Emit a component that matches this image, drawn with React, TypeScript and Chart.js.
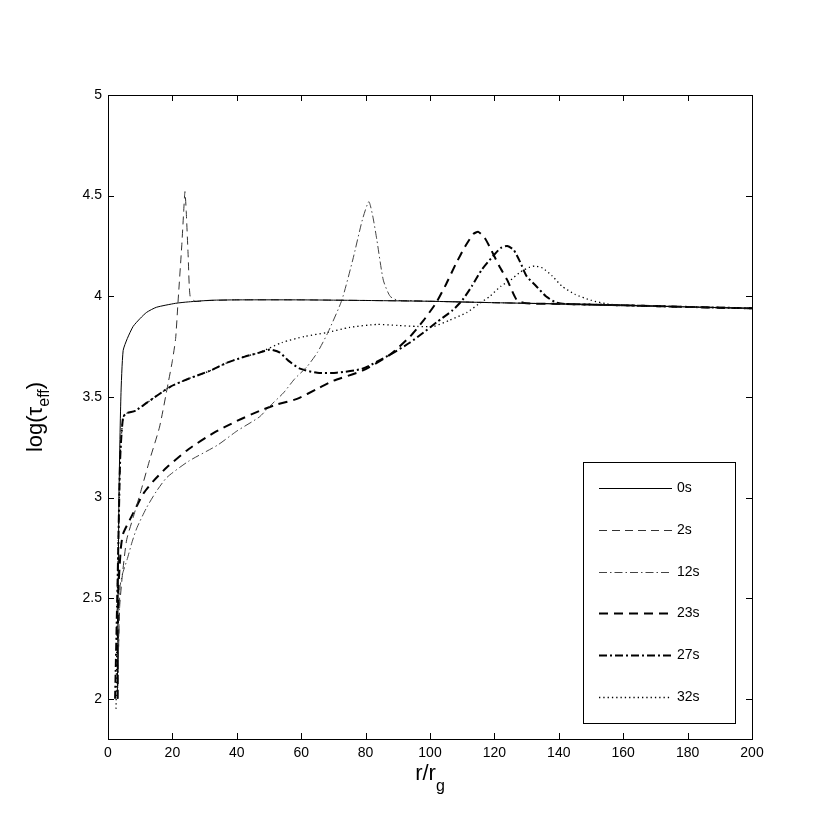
import React, { useEffect, useRef } from "react";
import { Chart, registerables } from "chart.js";

Chart.register(...registerables);

// ---- data ----
const seriesLabels = ["0s", "2s", "12s", "23s", "27s", "32s"];

const x0s = [2.9, 3.4, 4.0, 4.7, 6, 7.8, 10, 12, 15, 21, 25, 32, 40, 60, 80, 100, 120, 140, 160, 180, 200];
const y0s = [2.0, 3.0, 3.5, 3.73, 3.79, 3.85, 3.89, 3.92, 3.945, 3.965, 3.972, 3.98, 3.982, 3.982, 3.979, 3.975, 3.968, 3.962, 3.955, 3.947, 3.94];

const x2s = [3, 3.6, 4.5, 5.8, 7.8, 10, 13, 16, 18.7, 20, 21, 21.7, 22.9, 23.5, 23.9, 24.3, 24.9, 25.5, 27, 30, 40, 60, 80, 100, 120, 140, 160, 180, 200];
const y2s = [2.0, 2.45, 2.62, 2.79, 2.9, 3.02, 3.19, 3.35, 3.57, 3.68, 3.79, 3.96, 4.25, 4.42, 4.52, 4.42, 4.2, 4.0, 3.975, 3.978, 3.982, 3.982, 3.979, 3.975, 3.968, 3.962, 3.955, 3.947, 3.94];

const x12s = [3, 3.7, 4.5, 5.9, 7.5, 9, 12, 15, 18.3, 25, 34, 40, 47, 50, 54.5, 58, 61.8, 65, 68.3, 72.6, 76, 79, 81, 82.2, 83.5, 85.5, 87.6, 90, 95, 100, 120, 140, 160, 180, 200];
const y12s = [2.0, 2.55, 2.62, 2.69, 2.78, 2.85, 2.95, 3.03, 3.1, 3.18, 3.26, 3.33, 3.4, 3.45, 3.52, 3.59, 3.65, 3.72, 3.82, 3.98, 4.18, 4.38, 4.47, 4.4, 4.28, 4.08, 4.0, 3.98, 3.978, 3.975, 3.968, 3.962, 3.955, 3.947, 3.94];

const x23s = [3, 3.2, 4, 4.7, 6.8, 9, 11, 14, 18.3, 25, 32.7, 40, 47, 52, 58.7, 65, 70, 79, 87.6, 93.8, 98, 102, 105, 108, 111, 113.5, 115, 117, 119, 121.5, 124, 127, 130, 140, 160, 180, 200];
const y23s = [2.0, 2.53, 2.75, 2.82, 2.89, 2.96, 3.02, 3.08, 3.15, 3.24, 3.32, 3.38, 3.43, 3.46, 3.49, 3.54, 3.58, 3.63, 3.71, 3.8, 3.88, 3.97, 4.06, 4.16, 4.25, 4.31, 4.32, 4.29, 4.23, 4.15, 4.08, 3.98, 3.965, 3.962, 3.955, 3.947, 3.94];

const x27s = [2.2, 3, 3.8, 4.7, 6, 8.4, 12, 19.3, 25, 31.7, 37, 42.5, 47, 50.3, 53.4, 56, 59.6, 65, 71, 79, 87.6, 93.8, 98, 102, 107, 110, 113, 116, 119.6, 122, 124, 126, 128, 130, 133, 136, 139, 142, 160, 180, 200];
const y27s = [2.0, 2.6, 3.2, 3.4, 3.42, 3.43, 3.47, 3.55, 3.59, 3.63, 3.67, 3.7, 3.72, 3.735, 3.72, 3.68, 3.64, 3.62, 3.62, 3.64, 3.71, 3.77, 3.82, 3.87, 3.93, 3.98, 4.05, 4.13, 4.2, 4.24, 4.25, 4.23, 4.17, 4.1, 4.05, 4.0, 3.97, 3.962, 3.955, 3.947, 3.94];

const x32s = [2.5, 3, 3.8, 4.7, 6, 8.4, 12, 19.3, 25, 31.7, 37, 42.5, 47, 54, 61, 68, 75, 83.5, 90, 96, 101, 106, 111.5, 115, 118.6, 122, 125, 128, 131, 132.5, 135, 138, 141, 145, 150, 155, 160, 180, 200];
const y32s = [1.95, 2.6, 3.2, 3.4, 3.42, 3.43, 3.47, 3.55, 3.59, 3.63, 3.67, 3.7, 3.72, 3.77, 3.8, 3.82, 3.845, 3.86, 3.855, 3.85, 3.85, 3.88, 3.92, 3.96, 4.0, 4.05, 4.08, 4.12, 4.145, 4.15, 4.14, 4.1, 4.05, 4.01, 3.98, 3.962, 3.955, 3.947, 3.94];

const xTicks = [0, 20, 40, 60, 80, 100, 120, 140, 160, 180, 200];
const yTicks = [2, 2.5, 3, 3.5, 4, 4.5, 5];

const FONT = "'Liberation Sans', Arial, Helvetica, sans-serif";

const zip = (xs: number[], ys: number[]) => xs.map((x, i) => ({ x, y: ys[i] }));

const styles = [
  { color: "#000", width: 1, dash: [] as number[] },
  { color: "#333", width: 1, dash: [8, 5] },
  { color: "#444", width: 1, dash: [8, 3, 1.5, 3] },
  { color: "#000", width: 2, dash: [9, 6] },
  { color: "#000", width: 2, dash: [8, 3, 2, 3] },
  { color: "#000", width: 1.3, dash: [1.3, 3] },
];

const frame = {
  id: "frame",
  afterDatasetsDraw(chart: any) {
    const { ctx, chartArea: a, scales } = chart;
    const xs = scales.x;
    const ys = scales.y;
    ctx.save();
    ctx.strokeStyle = "#000";
    ctx.lineWidth = 1;
    ctx.setLineDash([]);
    ctx.strokeRect(a.left + 0.5, a.top + 0.5, a.right - a.left, a.bottom - a.top);
    const tl = 6;
    ctx.beginPath();
    xTicks.forEach((v) => {
      const p = Math.round(xs.getPixelForValue(v)) + 0.5;
      ctx.moveTo(p, a.bottom);
      ctx.lineTo(p, a.bottom - tl);
      ctx.moveTo(p, a.top);
      ctx.lineTo(p, a.top + tl);
    });
    yTicks.forEach((v) => {
      const p = Math.round(ys.getPixelForValue(v)) + 0.5;
      ctx.moveTo(a.left, p);
      ctx.lineTo(a.left + tl, p);
      ctx.moveTo(a.right, p);
      ctx.lineTo(a.right - tl, p);
    });
    ctx.stroke();

    // legend
    const lx = a.right - 169;
    const ly = a.top + 367;
    const lw = 152;
    const lh = 261;
    ctx.fillStyle = "#fff";
    ctx.fillRect(lx, ly, lw, lh);
    ctx.strokeRect(lx + 0.5, ly + 0.5, lw, lh);
    ctx.font = `14px ${FONT}`;
    ctx.textBaseline = "middle";
    ctx.textAlign = "left";
    chart.data.datasets.forEach((ds: any, i: number) => {
      const ry = Math.round(ly + 26 + i * 41.8) + 0.5;
      ctx.strokeStyle = ds.borderColor;
      ctx.lineWidth = ds.borderWidth;
      ctx.setLineDash(ds.borderDash || []);
      ctx.beginPath();
      ctx.moveTo(lx + 16, ry);
      ctx.lineTo(lx + 89, ry);
      ctx.stroke();
      ctx.setLineDash([]);
      ctx.fillStyle = "#000";
      ctx.fillText(ds.label, lx + 94, ry);
    });

    // axis titles with subscripts
    ctx.fillStyle = "#000";
    ctx.textBaseline = "alphabetic";
    const cx = (a.left + a.right) / 2;
    ctx.font = `22px ${FONT}`;
    const main = "r/r";
    const wm = ctx.measureText(main).width;
    ctx.font = `16px ${FONT}`;
    const ws = ctx.measureText("g").width;
    const sx = cx - (wm + ws) / 2;
    ctx.font = `22px ${FONT}`;
    ctx.fillText(main, sx, a.bottom + 41);
    ctx.font = `16px ${FONT}`;
    ctx.fillText("g", sx + wm, a.bottom + 52);

    const cy = (a.top + a.bottom) / 2;
    ctx.translate(42, cy);
    ctx.rotate(-Math.PI / 2);
    ctx.font = `22px ${FONT}`;
    const p1 = "log(\u03c4";
    const w1 = ctx.measureText(p1).width;
    ctx.font = `16px ${FONT}`;
    const w2 = ctx.measureText("eff").width;
    ctx.font = `22px ${FONT}`;
    const w3 = ctx.measureText(")").width;
    const start = -(w1 + w2 + w3) / 2;
    ctx.fillText(p1, start, 0);
    ctx.font = `16px ${FONT}`;
    ctx.fillText("eff", start + w1, 7);
    ctx.font = `22px ${FONT}`;
    ctx.fillText(")", start + w1 + w2, 0);
    ctx.restore();
  },
};

export default function App() {
  const ref = useRef<HTMLCanvasElement>(null);
  useEffect(() => {
    if (!ref.current) return;
    const allX = [x0s, x2s, x12s, x23s, x27s, x32s];
    const allY = [y0s, y2s, y12s, y23s, y27s, y32s];
    const chart = new Chart(ref.current, {
      type: "line",
      data: {
        datasets: seriesLabels.map((label, i) => ({
          label,
          data: zip(allX[i], allY[i]),
          borderColor: styles[i].color,
          borderWidth: styles[i].width,
          borderDash: styles[i].dash,
          pointRadius: 0,
          fill: false,
          tension: 0.2,
        })),
      },
      options: {
        responsive: false,
        animation: false,
        maintainAspectRatio: false,
        layout: { padding: { left: 0, top: 95, right: 78, bottom: 0 } },
        plugins: { legend: { display: false }, tooltip: { enabled: false } },
        scales: {
          x: {
            type: "linear",
            min: 0,
            max: 200,
            afterBuildTicks: (s: any) => {
              s.ticks = xTicks.map((v) => ({ value: v }));
            },
            afterFit: (s: any) => {
              s.height = 93;
            },
            grid: { display: false, drawTicks: false },
            border: { display: false },
            ticks: {
              color: "#000",
              font: { family: FONT, size: 14 },
              padding: 6,
              maxRotation: 0,
              callback: (v: any) => String(v),
            },
          },
          y: {
            type: "linear",
            min: 1.8,
            max: 5,
            afterBuildTicks: (s: any) => {
              s.ticks = yTicks.map((v) => ({ value: v }));
            },
            afterFit: (s: any) => {
              s.width = 108;
            },
            grid: { display: false, drawTicks: false },
            border: { display: false },
            ticks: {
              color: "#000",
              font: { family: FONT, size: 14 },
              padding: 6,
              callback: (v: any) => String(v),
            },
          },
        },
      },
      plugins: [frame],
    });
    return () => chart.destroy();
  }, []);
  return (
    <div style={{ position: "absolute", left: 0, top: 0, width: 830, height: 832, background: "#fff" }}>
      <canvas ref={ref} width={830} height={832} style={{ display: "block" }} />
    </div>
  );
}
